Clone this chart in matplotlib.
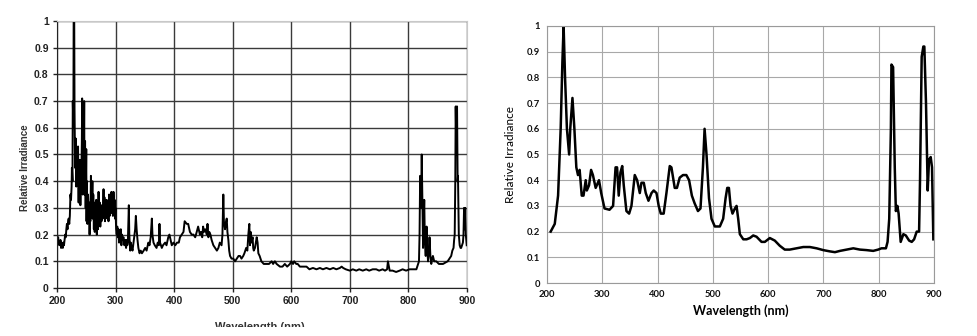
import numpy as np
import matplotlib
matplotlib.use("Agg")
import matplotlib.pyplot as plt
from matplotlib.patches import Rectangle

# measured spectrum (left): (wavelength nm, relative irradiance)
meas_pts = [
    (200, 0.20), (201, 0.16), (202, 0.19), (203, 0.17), (205, 0.16), (206, 0.18), (207, 0.15),
    (208, 0.17), (209, 0.16), (210, 0.15), (211, 0.17), (212, 0.16), (213, 0.18), (214, 0.20),
    (215, 0.19), (216, 0.22), (217, 0.24), (218, 0.22), (219, 0.25), (220, 0.26), (221, 0.24),
    (222, 0.27), (223, 0.35), (224, 0.33), (225, 0.38), (225.5, 0.45), (226.5, 0.40), (227, 0.70),
    (228, 0.60), (228.5, 1.00), (229.5, 1.00), (230, 0.67), (231, 0.45), (232, 0.56), (233, 0.38),
    (234, 0.52), (235, 0.40), (236, 0.53), (237, 0.32), (237.5, 0.45), (238.5, 0.33), (239, 0.48),
    (240, 0.31), (241, 0.45), (241.5, 0.40), (242.5, 0.55), (243, 0.71), (244, 0.35), (245, 0.65),
    (245.5, 0.38), (246.5, 0.70), (247, 0.35), (248, 0.55), (249, 0.30), (250, 0.52), (250.5, 0.25),
    (251, 0.40), (252, 0.24), (253, 0.35), (254, 0.28), (255, 0.32), (255.7, 0.20), (256.5, 0.30),
    (257, 0.25), (258, 0.42), (259, 0.28), (259.7, 0.30), (260.5, 0.40), (261, 0.26), (262, 0.35),
    (263, 0.22), (263.6, 0.30), (264.5, 0.21), (265, 0.32), (266, 0.23), (267, 0.33), (268, 0.20),
    (269, 0.28), (270, 0.22), (271, 0.36), (272, 0.25), (273, 0.32), (274, 0.23), (275, 0.30),
    (276, 0.25), (276.7, 0.31), (278, 0.26), (279.5, 0.37), (280.5, 0.28), (281, 0.34), (282, 0.25),
    (283, 0.33), (284, 0.27), (285, 0.33), (286, 0.26), (287, 0.32), (288, 0.25), (289, 0.35),
    (290, 0.27), (291, 0.31), (292, 0.28), (293, 0.36), (294, 0.29), (295, 0.35), (295.5, 0.27),
    (296.5, 0.36), (297.7, 0.30), (298.5, 0.33), (299, 0.26), (300, 0.30), (301, 0.22), (302, 0.20),
    (303, 0.23), (304, 0.19), (305, 0.22), (306, 0.17), (307, 0.21), (308, 0.18), (309, 0.22),
    (310, 0.16), (311, 0.20), (312, 0.18), (313.6, 0.19), (315, 0.16), (316.5, 0.18), (318, 0.15),
    (319, 0.18), (320, 0.16), (321, 0.17), (322.7, 0.31), (323.5, 0.20), (325, 0.14), (326, 0.17),
    (327.8, 0.15), (329, 0.14), (330.7, 0.17), (332, 0.19), (333.5, 0.22), (334.7, 0.27),
    (336, 0.22), (337.5, 0.18), (339, 0.15), (341, 0.13), (343, 0.14), (345, 0.13), (348, 0.14),
    (350.6, 0.15), (353, 0.14), (356, 0.17), (358, 0.16), (360, 0.19), (362, 0.26), (363, 0.20),
    (364.8, 0.17), (367, 0.16), (370, 0.15), (372, 0.17), (374, 0.16), (375, 0.24), (376, 0.17),
    (379, 0.15), (381, 0.16), (384.7, 0.17), (387, 0.16), (390, 0.19), (392, 0.20), (394, 0.18),
    (396, 0.16), (399, 0.17), (402, 0.16), (405, 0.17), (408, 0.17), (410, 0.19), (413, 0.20),
    (416, 0.21), (418, 0.25), (421.6, 0.24), (424, 0.24), (427, 0.21), (430, 0.20), (433, 0.20),
    (436, 0.19), (438.6, 0.21), (441, 0.23), (444, 0.20), (446, 0.21), (448, 0.19), (449.5, 0.23),
    (451, 0.21), (453, 0.22), (455.7, 0.20), (457, 0.24), (458.5, 0.19), (460, 0.21), (462, 0.20),
    (464, 0.18), (467, 0.16), (470, 0.15), (473, 0.14), (475.6, 0.15), (478, 0.17), (481, 0.16),
    (482.5, 0.20), (484, 0.35), (485, 0.25), (486.9, 0.22), (488, 0.24), (489.8, 0.26),
    (491, 0.21), (492.6, 0.18), (494, 0.14), (495.5, 0.12), (498, 0.11), (501, 0.11), (504, 0.10),
    (507, 0.11), (510, 0.12), (512.5, 0.12), (515, 0.11), (518, 0.12), (520, 0.13), (523, 0.15),
    (525, 0.14), (526.7, 0.20), (528.4, 0.24), (529.5, 0.16), (530.7, 0.21), (532, 0.17),
    (534, 0.19), (535, 0.15), (536, 0.14), (538, 0.15), (541, 0.19), (542.5, 0.17), (543.8, 0.13),
    (546, 0.12), (549, 0.10), (553, 0.09), (558, 0.09), (562, 0.09), (566.5, 0.10), (569, 0.09),
    (572, 0.10), (575, 0.09), (580.7, 0.08), (585, 0.08), (589, 0.09), (593, 0.08), (597.7, 0.09),
    (600, 0.10), (603, 0.09), (605, 0.10), (608.5, 0.09), (611, 0.09), (614.7, 0.08), (620, 0.08),
    (626, 0.08), (631, 0.07), (637, 0.075), (643, 0.07), (648.9, 0.075), (654, 0.07), (660, 0.075),
    (666, 0.07), (671.6, 0.075), (677, 0.07), (683, 0.075), (686, 0.08), (688.6, 0.075),
    (693, 0.07), (700, 0.065), (705, 0.07), (711, 0.065), (716, 0.07), (722, 0.065), (728, 0.07),
    (733, 0.065), (739, 0.07), (745, 0.07), (750, 0.065), (756, 0.07), (760, 0.065), (763.6, 0.07),
    (765, 0.10), (768, 0.065), (773, 0.065), (779, 0.06), (785, 0.065), (790, 0.07), (796, 0.065),
    (802, 0.07), (808, 0.07), (813.6, 0.07), (818, 0.10), (819, 0.20), (820, 0.42), (821.5, 0.30),
    (822.7, 0.50), (824, 0.30), (825, 0.15), (826, 0.25), (827, 0.33), (828, 0.18), (829.5, 0.12),
    (831, 0.23), (832, 0.15), (833.5, 0.10), (835, 0.14), (836, 0.19), (837.5, 0.12), (839, 0.09),
    (840.5, 0.11), (841.8, 0.12), (844, 0.10), (847.5, 0.10), (852, 0.09), (859, 0.09),
    (863, 0.095), (867, 0.10), (870, 0.11), (873, 0.12), (875, 0.14), (877, 0.15), (878, 0.18),
    (879, 0.20), (880, 0.40), (880.7, 0.68), (882, 0.50), (883, 0.68), (884, 0.40), (884.6, 0.42),
    (886, 0.20), (887.5, 0.16), (889, 0.15), (890, 0.15), (891.5, 0.16), (893, 0.17), (894, 0.20),
    (895, 0.30), (896, 0.22), (897, 0.30), (898, 0.20), (899.5, 0.16),
]
wl_meas = [p[0] for p in meas_pts]
ir_meas = [p[1] for p in meas_pts]

# model spectrum (right)
wl_model = [206.6, 214, 220, 224.7, 227.8, 230, 232.6, 236, 240, 242, 246, 249.5, 253, 256, 259, 262.8,
            266, 270, 272, 276, 279.7, 283, 288, 294, 298, 304, 313, 319.5, 324, 326.7, 329.7, 332.8,
            336, 338.8, 343.6, 348.5, 352.7, 358.7, 363, 367.8, 370.8, 375, 378.6, 383.5, 389, 393, 398,
            402, 405.8, 411, 416, 422, 425, 431, 435, 440, 446, 452, 457, 462, 467, 473, 477.6, 482,
            485, 488.5, 493, 497.5, 503.5, 512.6, 518.6, 523, 526, 529, 532, 535.5, 539.8, 542.8, 545.8,
            548.8, 555, 561, 567, 573, 579, 588, 594, 603, 612, 621, 630, 639, 651, 663.5, 675.5, 687.7,
            699.7, 711.8, 720.8, 730, 742, 754, 766, 778, 790, 799, 805, 813, 816, 819, 822, 823, 826,
            829, 831, 833.7, 836, 839.7, 844.6, 849, 855, 859.7, 864, 868.7, 873, 874.7, 877.7, 880.7,
            882.5, 885.5, 888.6, 891, 894, 896.4, 898.8]
ir_model = [0.20, 0.23, 0.34, 0.60, 0.86, 1.00, 0.80, 0.60, 0.50, 0.60, 0.72, 0.60, 0.45, 0.42, 0.44, 0.34,
            0.34, 0.40, 0.36, 0.38, 0.44, 0.42, 0.37, 0.40, 0.35, 0.29, 0.285, 0.30, 0.45, 0.45, 0.34,
            0.43, 0.455, 0.38, 0.28, 0.27, 0.30, 0.42, 0.40, 0.35, 0.39, 0.39, 0.35, 0.32, 0.35, 0.36,
            0.35, 0.30, 0.27, 0.27, 0.35, 0.455, 0.45, 0.37, 0.37, 0.41, 0.42, 0.42, 0.40, 0.34, 0.31,
            0.28, 0.29, 0.45, 0.60, 0.50, 0.33, 0.25, 0.22, 0.22, 0.25, 0.33, 0.37, 0.37, 0.30, 0.27,
            0.29, 0.30, 0.25, 0.19, 0.17, 0.17, 0.175, 0.185, 0.18, 0.16, 0.16, 0.175, 0.165, 0.145,
            0.13, 0.13, 0.135, 0.14, 0.14, 0.135, 0.128, 0.123, 0.12, 0.125, 0.13, 0.135, 0.13, 0.128,
            0.125, 0.13, 0.135, 0.135, 0.16, 0.25, 0.60, 0.85, 0.84, 0.45, 0.28, 0.30, 0.27, 0.16, 0.19,
            0.185, 0.165, 0.16, 0.17, 0.20, 0.20, 0.40, 0.88, 0.92, 0.92, 0.70, 0.36, 0.48, 0.49, 0.45,
            0.17]

x_ticks = [200, 300, 400, 500, 600, 700, 800, 900]
y_ticks = [0, 0.1, 0.2, 0.3, 0.4, 0.5, 0.6, 0.7, 0.8, 0.9, 1]
y_tick_labels = ["0", "0.1", "0.2", "0.3", "0.4", "0.5", "0.6", "0.7", "0.8", "0.9", "1"]

fig = plt.figure(figsize=(9.77, 3.36), dpi=100)
fig.patch.set_facecolor("white")

# ---- left: measured ----
ax1 = fig.add_axes([0.0583, 0.1429, 0.4197, 0.7946])
ax1.plot(wl_meas, ir_meas, color="black", linewidth=1.4)
ax1.set_xlim(200, 900)
ax1.set_ylim(0, 1)
ax1.set_xticks(x_ticks)
ax1.set_yticks(y_ticks)
ax1.set_yticklabels(y_tick_labels)
ax1.grid(True, color="#3a3a3a", linewidth=1.0)
ax1.set_axisbelow(True)
for s in ["top", "right"]:
    ax1.spines[s].set_color("#c8c8c8")
for s in ["left", "bottom"]:
    ax1.spines[s].set_color("#222222")
ax1.tick_params(length=3, width=1, color="#222222", pad=3)
for lab in ax1.get_xticklabels() + ax1.get_yticklabels():
    lab.set_fontfamily("Liberation Sans")
    lab.set_fontweight("bold")
    lab.set_fontsize(7.5)
    lab.set_color("#222222")
fig.text(0.026, 0.5, "Relative Irradiance", rotation=90, ha="center", va="center",
         family="Liberation Sans", fontweight="bold", fontsize=7, color="#333333")
fig.text(0.266, 0.0417, "Wavelength (nm)", ha="center", va="top",
         family="Liberation Sans", fontweight="bold", fontsize=8, color="#333333")
# the left panel's image ends just below its axis title
fig.patches.append(Rectangle((0, 0), 0.5, 0.0268, transform=fig.transFigure,
                             facecolor="white", edgecolor="none", zorder=10))

# ---- right: model ----
ax2 = fig.add_axes([0.5599, 0.1577, 0.3961, 0.765])
ax2.plot(wl_model, ir_model, color="black", linewidth=1.8)
ax2.set_xlim(200, 900)
ax2.set_ylim(0, 1)
ax2.set_xticks(x_ticks)
ax2.set_yticks(y_ticks)
ax2.set_yticklabels(y_tick_labels)
ax2.grid(True, color="#a8a8a8", linewidth=0.8)
ax2.set_axisbelow(True)
for s in ax2.spines.values():
    s.set_color("#9a9a9a")
    s.set_linewidth(0.8)
ax2.tick_params(length=0, pad=5)
for lab in ax2.get_xticklabels() + ax2.get_yticklabels():
    lab.set_fontfamily("Lato")
    lab.set_fontweight("bold")
    lab.set_fontsize(6.8)
    lab.set_color("#111111")
ax2.set_xlabel("Wavelength (nm)", family="Lato", fontsize=9, fontweight="bold", labelpad=4)
ax2.set_ylabel("Relative Irradiance", family="Lato", fontsize=8.5, labelpad=8)

fig.savefig("out.png", dpi=100)
